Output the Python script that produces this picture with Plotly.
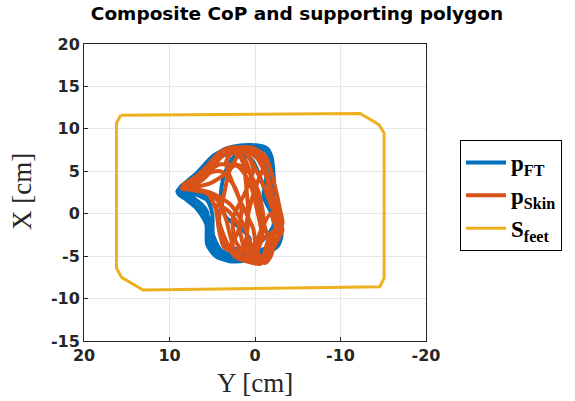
import plotly.graph_objects as go

# ---- data (Y, X in cm) ----
ft_y = [9.0, 7.2, 5.4, 3.6, 1.6, -0.4, -1.5, -2.0, -2.0, -2.1, -2.7, -2.9, -1.6, 0.4, 2.4, 4.2, 5.2, 5.4, 6.2, 7.8, 8.9,
        7.6, 5.6, 3.4, 1.2, -0.6, -1.7, -1.9, -1.8, -2.4, -2.6, -1.2, 0.8, 2.6, 4.0, 4.9, 5.0, 5.6, 7.2, 8.8,
        8.6, 6.0, 4.6, 4.2, 3.6, 1.8, 0.0, -1.4, -2.2, -1.6, -0.8, 0.4, 2.2, 4.4, 6.4, 8.2,
        8.8, 6.8, 4.8, 2.6, 0.4, -1.2, -1.9, -2.2, -2.2, -2.9, -3.1, -2.6, -1.0, 1.0, 3.0, 4.6, 5.6, 5.7, 6.8, 8.2, 9.1,
        7.4, 5.8, 5.0, 4.6, 3.0, 1.4, 0.6, 1.8, 3.4, 4.0, 3.6, 2.4, 0.8, -0.6, -1.4, -1.0, -2.2, -2.8, -2.2, -0.4, 2.0, 3.8, 5.0, 5.3, 6.0, 7.6, 9.0,
        8.0, 6.2, 4.0, 1.8, -0.2, -1.4, -1.9, -2.0, -2.3, -2.8, -2.4, -0.6, 1.6, 3.6, 4.8, 5.4, 5.6, 6.6, 8.4, 9.0]
ft_x = [2.8, 4.3, 6.2, 7.6, 8.0, 8.0, 7.6, 6.2, 3.2, 0.3, -1.6, -3.4, -4.5, -5.1, -5.3, -4.9, -3.2, -0.8, 1.0, 2.0, 2.6,
        3.6, 5.8, 7.4, 7.7, 7.7, 7.0, 4.5, 1.5, -1.0, -3.0, -4.1, -4.6, -4.9, -4.3, -2.5, 0.0, 1.6, 2.4, 3.0,
        2.4, 2.2, 0.8, -1.5, -3.6, -4.2, -3.8, -2.6, -1.2, 1.0, 3.8, 6.4, 7.2, 6.6, 5.0, 3.4,
        3.1, 4.8, 6.9, 7.9, 8.1, 7.8, 6.8, 4.0, 1.0, -1.2, -2.6, -3.9, -4.8, -5.5, -5.6, -5.0, -3.6, -1.2, 0.6, 1.8, 2.6,
        2.0, 0.4, -2.0, -4.2, -4.8, -4.6, -3.0, -1.6, -0.4, 2.0, 4.6, 6.8, 7.4, 6.8, 5.0, 2.0, -0.4, -2.2, -3.6, -4.6, -5.1, -5.0, -4.0, -1.8, 0.2, 1.4, 2.4,
        3.4, 5.2, 7.2, 7.9, 7.9, 7.3, 5.4, 2.2, -0.4, -2.4, -4.0, -5.0, -5.4, -5.3, -4.4, -2.4, 0.2, 1.4, 2.3, 2.8]

skin_y = [8.4, 6.6, 4.8, 3.2, 1.6, 0.0, -1.1, -1.9, -2.5, -3.1, -2.6, -1.8, -1.0, 0.0, 0.6, 1.6, 3.0, 5.0, 7.0, 8.4,
          7.8, 5.6, 3.8, 2.4, 1.4, 1.0, 0.8, 1.0, 1.6, 2.8, 3.8, 4.2, 3.6, 3.0, 1.8, 0.6, -0.8, -1.6, -2.0, -2.8, -3.2, -2.2, -0.6, -0.2, -0.8, -0.2, 0.6, 2.0, 4.2, 6.2, 8.2,
          8.0, 6.0, 4.4, 3.4, 2.8, 2.2, 0.8, -0.6, -1.4, -2.2, -2.4, -1.6, -0.4, 0.8, 2.8, 4.4, 5.6, 7.0, 8.2,
          7.2, 5.0, 3.0, 1.2, 0.2, -0.6, -1.4, -2.0, -1.2, -0.2, 0.2, 1.4, 2.6, 3.4, 2.4, 0.4, -1.2, -2.2, -2.9, -3.2, -2.0, 0.6, 2.4, 3.6, 4.2, 4.6, 5.6, 7.4, 8.6,
          6.0, 4.0, 2.4, 1.6, 2.0, 3.0, 1.8, 0.4, -0.6, -1.8, -2.4, -3.0, -2.0, -1.4, -0.4, 0.6, 1.0, 0.4, -0.4, -1.2, -0.4, 1.2, 3.6, 5.4, 7.6, 8.4,
          8.2, 6.4, 5.0, 4.2, 2.6, 1.0, 0.2, 1.2, 2.6, 2.2, 0.8, -0.8, -1.6, -2.8, -3.0, -2.2, -1.4, -0.2, 1.8, 3.8, 5.8, 7.4, 8.4,
          7.0, 5.2, 3.6, 2.2, 0.8, -0.4, -1.0, -0.6, 0.4, 1.4, 2.0, 3.2, 4.6, 4.0, 3.2, 2.4, 1.0, -0.6, -1.6, -2.6, -3.2, -2.6, -1.8, -0.8, 0.6, 2.6, 4.6, 6.6, 8.0]
skin_x = [3.2, 4.4, 6.3, 7.5, 7.7, 7.2, 5.6, 2.8, 0.2, -1.4, -2.8, -4.4, -5.6, -5.4, -3.4, -0.8, 1.2, 2.4, 2.9, 3.2,
          3.5, 4.8, 6.8, 7.6, 6.0, 3.0, 0.0, -2.8, -4.6, -4.4, -3.0, -0.6, 2.4, 5.0, 7.0, 7.4, 6.0, 3.2, 0.8, -0.8, -2.0, -3.6, -5.8, -5.0, -2.6, 0.6, 3.6, 5.6, 5.8, 4.4, 3.3,
          3.0, 2.6, 1.6, -0.6, -3.0, -4.8, -5.2, -5.4, -4.2, -2.4, -0.6, 1.8, 4.6, 6.8, 7.8, 7.0, 5.6, 4.2, 3.4,
          3.8, 6.0, 7.2, 6.4, 3.4, 0.4, -2.4, -4.6, -5.8, -4.4, -1.8, 0.8, 3.6, 6.0, 7.6, 7.8, 6.8, 3.8, 0.6, -1.2, -2.2, -3.8, -4.4, -4.0, -2.0, 0.6, 2.4, 2.8, 3.0,
          4.6, 5.0, 3.2, 0.6, -2.2, -4.2, -5.2, -4.6, -2.2, 0.0, -1.4, -2.4, -3.4, -5.4, -5.9, -4.4, -1.4, 1.6, 4.0, 6.2, 7.4, 7.8, 7.2, 5.6, 3.9, 3.4,
          3.0, 3.8, 5.2, 6.6, 7.4, 7.0, 5.2, 2.4, -0.6, -3.4, -4.8, -5.2, -3.0, -1.8, -0.4, 1.6, 4.4, 6.6, 7.6, 7.0, 5.0, 3.6, 3.2,
          3.2, 3.6, 4.6, 5.8, 5.0, 2.6, -0.6, -3.6, -5.4, -3.6, -1.2, 0.4, 1.0, -1.6, -3.6, -5.0, -5.6, -5.9, -5.0, -3.2, -1.8, 0.2, 3.0, 5.6, 7.6, 7.8, 6.6, 4.6, 3.6]

feet_y = [15.7, -12.3, -14.5, -15.1, -15.1, -14.6, 13.1, 15.6, 16.2, 16.2, 15.7]
feet_x = [11.6, 11.8, 10.5, 9.5, -7.6, -8.6, -9.0, -7.5, -6.4, 10.7, 11.6]

x_ticks = [20, 10, 0, -10, -20]
y_ticks = [20, 15, 10, 5, 0, -5, -10, -15]

BLUE = "#0072BD"
ORANGE = "#D95319"
YELLOW = "#EDB120"
DARK = "#262626"
SERIF = "Liberation Serif"

fig = go.Figure()
fig.add_trace(go.Scatter(x=ft_y, y=ft_x, mode="lines", line=dict(color=BLUE, width=4, shape="spline", smoothing=0.7),
                         name="<b>p</b><sub><b>FT</b></sub>"))
fig.add_trace(go.Scatter(x=skin_y, y=skin_x, mode="lines", line=dict(color=ORANGE, width=4, shape="spline", smoothing=0.7),
                         name="<b>p</b><sub><b>Skin</b></sub>"))
fig.add_trace(go.Scatter(x=feet_y, y=feet_x, mode="lines", line=dict(color=YELLOW, width=3),
                         name="<b>S</b><sub><b>feet</b></sub>"))

axis_common = dict(showgrid=True, gridcolor="#e6e6e6", gridwidth=1, zeroline=False,
                   showline=True, linecolor=DARK, linewidth=1, mirror=True,
                   ticks="inside", ticklen=4, tickcolor=DARK,
                   tickfont=dict(family="DejaVu Sans", size=16, color=DARK))

fig.update_layout(
    width=575, height=401,
    margin=dict(l=84, r=149, t=44, b=60),
    paper_bgcolor="white", plot_bgcolor="white",
    title=dict(text="<b>Composite CoP and supporting polygon</b>", x=297/575, xanchor="center",
               y=1 - 14/401, yanchor="middle",
               font=dict(family="DejaVu Sans", size=18.5, color="black")),
    xaxis=dict(range=[20, -20], tickvals=x_ticks, ticktext=[f"<b>{v}</b>" for v in x_ticks],
               **axis_common),
    yaxis=dict(range=[-15, 20], tickvals=y_ticks, ticktext=[f"<b>{v}</b>" for v in y_ticks],
               **axis_common),
    legend=dict(x=(460 - 84) / 342, y=(341 - 140) / 297, xanchor="left", yanchor="top",
                bordercolor="black", borderwidth=1, bgcolor="white",
                font=dict(family=SERIF, size=23, color="black"),
                tracegroupgap=0, itemwidth=40),
    showlegend=True,
    annotations=[
        dict(text="Y [cm]", xref="paper", yref="paper", x=0.5, y=-(383 - 341) / 297,
             xanchor="center", yanchor="middle", showarrow=False,
             font=dict(family=SERIF, size=27, color=DARK)),
        dict(text="X [cm]", xref="paper", yref="paper", x=-(84 - 22) / 342, y=(341 - 192) / 297,
             xanchor="center", yanchor="middle", showarrow=False, textangle=-90,
             font=dict(family=SERIF, size=27, color=DARK)),
    ],
)

fig.write_html("out.html")
